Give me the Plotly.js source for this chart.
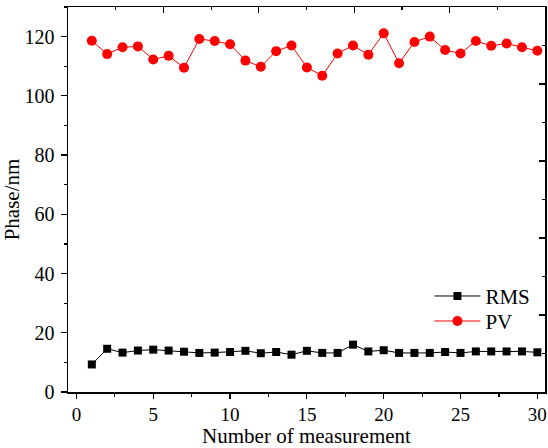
<!DOCTYPE html>
<html>
<head>
<meta charset="utf-8">
<script src="https://cdn.plot.ly/plotly-3.0.1.min.js"></script>
<style>html,body{margin:0;padding:0;background:#fff;}#chart{width:548px;height:448px;}</style>
</head>
<body>
<div id="chart"></div>
<script>
const measurement = [1,2,3,4,5,6,7,8,9,10,11,12,13,14,15,16,17,18,19,20,21,22,23,24,25,26,27,28,29,30];
const rmsValues = [9.3,14.6,13.3,14.0,14.3,14.0,13.6,13.2,13.3,13.5,13.9,13.1,13.5,12.6,13.9,13.2,13.2,16.0,13.7,14.1,13.2,13.2,13.2,13.5,13.2,13.7,13.7,13.7,13.7,13.4];
const pvValues = [118.6,114.1,116.4,116.7,112.3,113.5,109.5,119.2,118.5,117.4,111.9,109.8,115.1,117.0,109.6,106.8,114.3,117.0,113.9,121.1,111.0,118.2,120.0,115.5,114.3,118.5,116.9,117.7,116.4,115.2];
const xTickVals = [0,5,10,15,20,25,30];
const yTickVals = [0,20,40,60,80,100,120];

const fam = '"Liberation Serif", "Times New Roman", serif';
const f = (s) => ({family: fam, size: s, color: '#000'});

const traces = [
  {x: measurement, y: rmsValues, name: 'RMS', type: 'scatter', mode: 'lines+markers', legend: 'legend',
   line: {color: '#000', width: 1}, marker: {symbol: 'square', size: 8, color: '#000'}},
  {x: measurement, y: pvValues, name: 'PV', type: 'scatter', mode: 'lines+markers', legend: 'legend2',
   line: {color: '#ff0000', width: 1}, marker: {symbol: 'circle', size: 10, color: '#ff0000'}},
  {x: [null], y: [null], xaxis: 'x2', yaxis: 'y2', showlegend: false, hoverinfo: 'skip', type: 'scatter', mode: 'markers'}
];

const legendBase = {xanchor: 'left', yanchor: 'middle', bgcolor: 'rgba(0,0,0,0)', font: f(21), itemwidth: 46};

const layout = {
  width: 548, height: 448,
  margin: {l: 68, r: 3, t: 7, b: 55.5, pad: 0},
  paper_bgcolor: '#fff', plot_bgcolor: '#fff',
  font: f(20),
  showlegend: true,
  legend: Object.assign({x: 0.7577, y: 0.2485}, legendBase),
  legend2: Object.assign({x: 0.7577, y: 0.1836}, legendBase),
  xaxis: {range: [-0.55, 30.5], tickvals: xTickVals, ticks: 'outside', ticklen: 5, tickwidth: 1.2,
          tickcolor: '#000', showline: true, linecolor: '#000', linewidth: 1.5, showgrid: false,
          zeroline: false, tickfont: f(19),
          minor: {dtick: 2.5, tick0: 0, ticks: 'outside', ticklen: 3, tickwidth: 1.2, tickcolor: '#000', showgrid: false},
          title: {text: 'Number of measurement', font: f(21), standoff: 1}},
  yaxis: {range: [0, 130], tickvals: yTickVals, ticks: 'outside', ticklen: 6, tickwidth: 1.2,
          tickcolor: '#000', showline: true, linecolor: '#000', linewidth: 1.5, showgrid: false,
          zeroline: false, tickfont: f(20), ticklabelstandoff: 2,
          minor: {dtick: 10, tick0: 0, ticks: 'outside', ticklen: 3, tickwidth: 1.2, tickcolor: '#000', showgrid: false},
          title: {text: 'Phase/nm', font: f(21), standoff: 2}},
  xaxis2: {overlaying: 'x', side: 'top', anchor: 'y2', range: [0, 10], dtick: 2, tick0: 0,
           ticks: 'inside', ticklen: 6, tickwidth: 1.2, tickcolor: '#000', showticklabels: false,
           showline: true, linecolor: '#000', linewidth: 1.5, showgrid: false, zeroline: false,
           minor: {dtick: 1, tick0: 0, ticks: 'inside', ticklen: 3, tickwidth: 1.2, tickcolor: '#000', showgrid: false}},
  yaxis2: {overlaying: 'y', side: 'right', anchor: 'x2', range: [0, 10], dtick: 2, tick0: 0,
           ticks: 'inside', ticklen: 6, tickwidth: 1.2, tickcolor: '#000', showticklabels: false,
           showline: true, linecolor: '#000', linewidth: 1.5, showgrid: false, zeroline: false,
           minor: {dtick: 1, tick0: 0, ticks: 'inside', ticklen: 3, tickwidth: 1.2, tickcolor: '#000', showgrid: false}}
};

Plotly.newPlot('chart', traces, layout, {displayModeBar: false, staticPlot: true});
</script>
</body>
</html>
